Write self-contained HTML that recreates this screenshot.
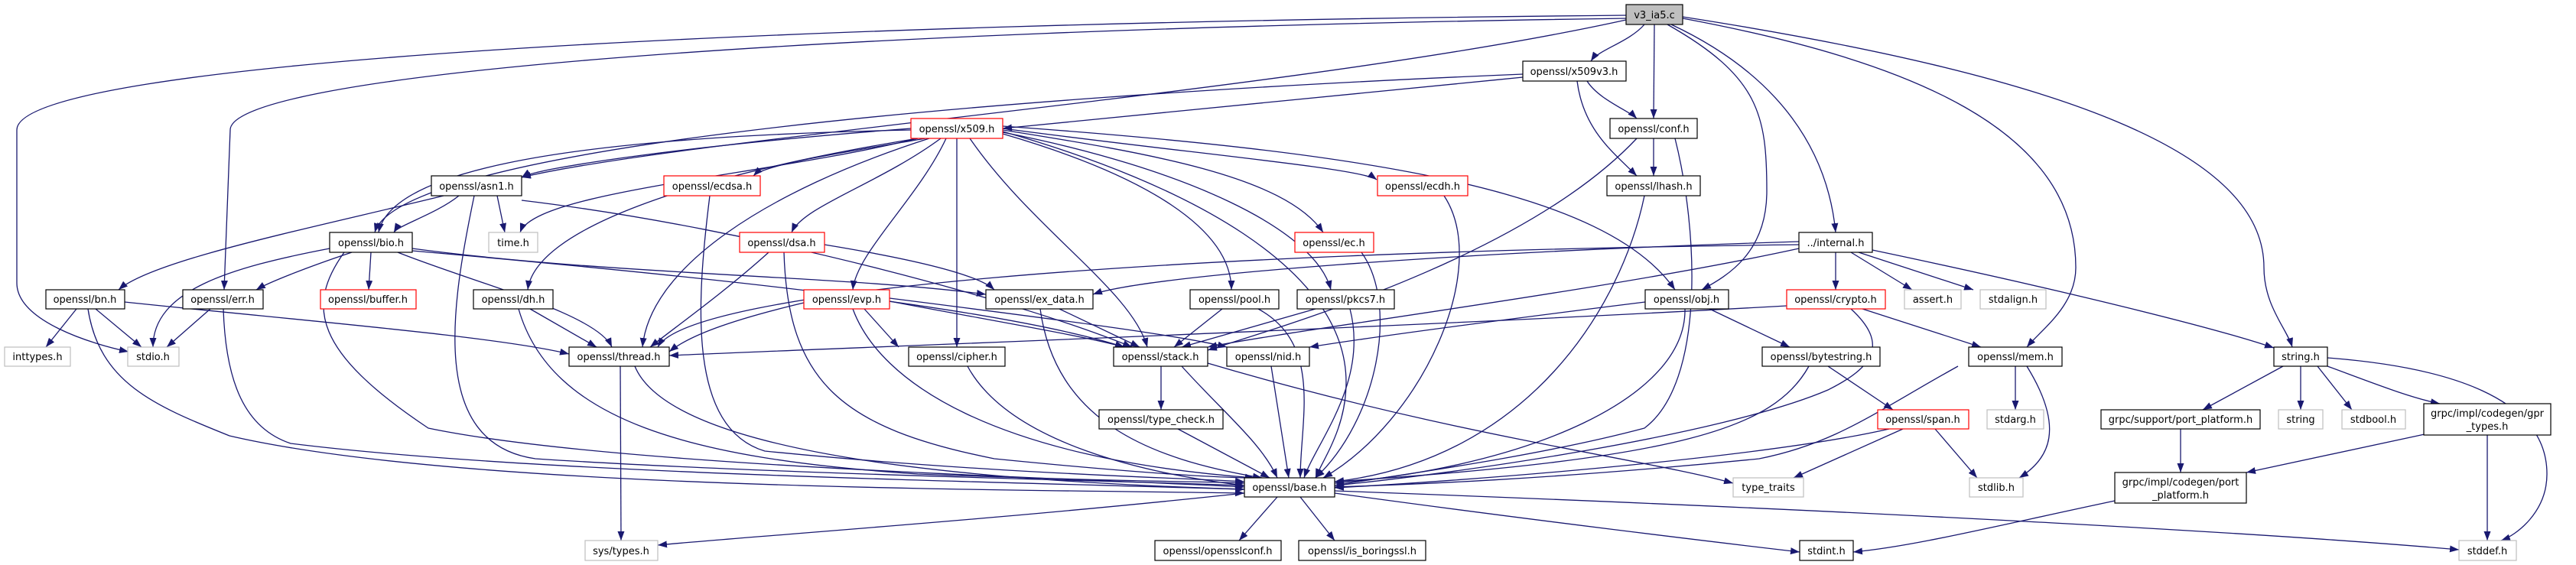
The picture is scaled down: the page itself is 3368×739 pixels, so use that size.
<!DOCTYPE html>
<html><head><meta charset="utf-8"><style>
html,body{margin:0;padding:0;background:#fff}
svg{display:block}
.e{fill:none;stroke:#191970;stroke-width:1.3;marker-end:url(#a)}
.n rect{fill:#fff;stroke:#000;stroke-width:1.2}
.n.r rect{stroke:#ff0000}
.n.g rect{stroke:#bfbfbf}
.n.root rect{fill:#bfbfbf;stroke:#000}
text{font-family:"DejaVu Sans","Liberation Sans",sans-serif;font-size:13px;fill:#000;text-anchor:middle}
</style></head><body>
<svg width="3368" height="739" viewBox="0 0 3368 739" xmlns="http://www.w3.org/2000/svg">
<defs><marker id="a" markerUnits="userSpaceOnUse" markerWidth="12" markerHeight="9" refX="12" refY="4.5" orient="auto"><path d="M0,0 L12,4.5 L0,9 z" fill="#191970"/></marker></defs>
<g>
<path class="e" d="M2150,32 C2130,55 2090,65 2080,80"/>
<path class="e" d="M2163,32 L2162,155"/>
<path class="e" d="M2180,32 C2300,100 2310,150 2310,250 C2310,330 2260,360 2225,379"/>
<path class="e" d="M2185,32 C2330,100 2390,200 2400,304"/>
<path class="e" d="M2200,24 C2500,80 2714,170 2714,350 C2714,400 2670,430 2650,454"/>
<path class="e" d="M2200,22 C2700,100 2960,200 2960,350 C2960,400 2990,430 2997,454"/>
<path class="e" d="M2126,20 C1000,30 22,80 22,170 L22,370 C22,420 120,450 168,460"/>
<path class="e" d="M2126,24 C1000,40 301,100 301,170 L293,379"/>
<path class="e" d="M2126,26 C1700,120 900,180 682,232"/>
<path class="e" d="M1991,101 C1700,130 1400,160 1311,168"/>
<path class="e" d="M1991,97 C1200,130 520,200 490,304"/>
<path class="e" d="M2075,106 C2090,130 2130,145 2140,155"/>
<path class="e" d="M2062,106 C2070,170 2110,200 2140,230"/>
<path class="e" d="M1191,170 C700,180 510,230 495,304"/>
<path class="e" d="M1191,168 C900,190 700,220 682,232"/>
<path class="e" d="M1200,181 C1000,230 700,250 680,304"/>
<path class="e" d="M1210,181 C1100,200 1000,215 985,230"/>
<path class="e" d="M1200,181 C900,230 700,300 690,379"/>
<path class="e" d="M1230,181 C1150,240 1050,270 1035,304"/>
<path class="e" d="M1237,181 C1200,260 1120,330 1115,379"/>
<path class="e" d="M1251,181 L1251,454"/>
<path class="e" d="M1268,181 C1350,300 1480,380 1500,454"/>
<path class="e" d="M1215,181 C1000,250 850,350 840,454"/>
<path class="e" d="M1311,175 C1500,230 1610,300 1610,379"/>
<path class="e" d="M1311,173 C1550,220 1720,300 1740,379"/>
<path class="e" d="M1311,170 C1500,200 1680,230 1730,304"/>
<path class="e" d="M1311,168 C1550,200 1780,220 1800,235"/>
<path class="e" d="M1311,165 C1800,200 2100,250 2190,379"/>
<path class="e" d="M1311,172 C1550,240 1760,350 1760,500 C1760,560 1730,600 1720,625"/>
<path class="e" d="M2162,181 L2162,230"/>
<path class="e" d="M2140,181 C2000,330 1700,420 1579,458"/>
<path class="e" d="M2190,181 C2220,300 2230,500 2150,560 C2000,600 1800,625 1745,635"/>
<path class="e" d="M2150,256 C2120,400 2000,600 1745,630"/>
<path class="e" d="M600,256 C570,280 520,295 515,304"/>
<path class="e" d="M650,256 L660,304"/>
<path class="e" d="M580,256 C400,300 200,340 155,379"/>
<path class="e" d="M620,256 C590,400 560,580 700,600 C1000,620 1500,630 1627,635"/>
<path class="e" d="M682,262 C1000,300 1350,400 1480,454"/>
<path class="e" d="M485,330 L482,379"/>
<path class="e" d="M460,330 C400,350 350,370 335,379"/>
<path class="e" d="M431,325 C300,350 200,380 200,454"/>
<path class="e" d="M520,330 C620,370 780,410 800,454"/>
<path class="e" d="M539,325 C800,360 1100,360 1289,385"/>
<path class="e" d="M539,328 C900,360 1300,400 1470,454"/>
<path class="e" d="M450,330 C400,400 410,460 560,560 C800,610 1400,625 1627,637"/>
<path class="e" d="M100,404 L60,454"/>
<path class="e" d="M125,404 L185,454"/>
<path class="e" d="M163,395 C400,420 650,440 744,463"/>
<path class="e" d="M115,404 C130,500 200,530 300,570 C600,640 1300,640 1627,645"/>
<path class="e" d="M275,404 L218,454"/>
<path class="e" d="M292,404 C295,500 320,560 380,580 C700,620 1300,630 1627,640"/>
<path class="e" d="M693,404 L780,454"/>
<path class="e" d="M678,404 C720,550 900,600 1200,620 C1450,630 1600,630 1627,632"/>
<path class="e" d="M928,256 C910,400 900,560 1000,590 C1300,620 1550,625 1627,630"/>
<path class="e" d="M1005,330 C950,380 880,430 850,454"/>
<path class="e" d="M1078,320 C1200,340 1280,360 1300,379"/>
<path class="e" d="M1025,330 C1030,500 1100,560 1300,600 C1500,620 1600,625 1640,625"/>
<path class="e" d="M1051,396 C950,420 900,440 875,460"/>
<path class="e" d="M1130,404 L1175,454"/>
<path class="e" d="M1163,394 C1300,420 1420,440 1470,454"/>
<path class="e" d="M1163,390 C1400,420 1550,440 1604,454"/>
<path class="e" d="M1115,404 C1150,500 1300,600 1640,625"/>
<path class="e" d="M1385,404 L1490,454"/>
<path class="e" d="M1360,404 C1380,550 1500,600 1650,625"/>
<path class="e" d="M1598,404 L1535,454"/>
<path class="e" d="M1645,404 C1730,450 1700,550 1700,625"/>
<path class="e" d="M1720,404 L1545,454"/>
<path class="e" d="M1765,404 C1790,500 1720,580 1705,625"/>
<path class="e" d="M1780,330 C1830,400 1800,550 1720,625"/>
<path class="e" d="M1888,256 C1950,350 1860,550 1730,625"/>
<path class="e" d="M2151,395 C1950,420 1800,440 1712,454"/>
<path class="e" d="M2235,404 L2340,454"/>
<path class="e" d="M2203,404 C2205,520 2000,610 1745,632"/>
<path class="e" d="M2352,320 C1500,330 900,380 860,454"/>
<path class="e" d="M2352,316 C1900,330 1500,360 1429,385"/>
<path class="e" d="M2352,325 C2100,380 1700,430 1579,454"/>
<path class="e" d="M2400,330 L2400,379"/>
<path class="e" d="M2420,330 L2500,379"/>
<path class="e" d="M2430,330 L2580,379"/>
<path class="e" d="M2448,327 C2700,380 2900,430 2973,455"/>
<path class="e" d="M2336,400 C1800,430 1100,455 875,465"/>
<path class="e" d="M2435,404 L2590,454"/>
<path class="e" d="M2420,404 C2470,450 2450,480 2390,510 C2250,570 1900,620 1745,635"/>
<path class="e" d="M811,479 L812,707"/>
<path class="e" d="M830,479 C880,600 1300,630 1627,640"/>
<path class="e" d="M1265,479 C1320,580 1500,620 1627,635"/>
<path class="e" d="M1518,479 L1518,536"/>
<path class="e" d="M1545,479 C1600,540 1650,580 1670,625"/>
<path class="e" d="M1579,475 C1900,570 2150,600 2266,632"/>
<path class="e" d="M1662,479 L1685,625"/>
<path class="e" d="M1540,561 L1660,625"/>
<path class="e" d="M2390,479 L2475,536"/>
<path class="e" d="M2365,479 C2320,560 2200,600 1745,630"/>
<path class="e" d="M2635,479 L2635,536"/>
<path class="e" d="M2650,479 C2700,560 2680,600 2640,625"/>
<path class="e" d="M2560,479 C2450,540 2400,580 2300,600 C2000,630 1800,635 1745,637"/>
<path class="e" d="M2470,561 C2300,600 1900,630 1745,638"/>
<path class="e" d="M2488,561 L2345,625"/>
<path class="e" d="M2530,561 L2585,625"/>
<path class="e" d="M2985,479 L2880,536"/>
<path class="e" d="M3008,479 L3008,536"/>
<path class="e" d="M3030,479 L3075,536"/>
<path class="e" d="M3043,479 C3100,500 3150,520 3190,528"/>
<path class="e" d="M3043,468 C3200,480 3330,520 3330,620 C3330,670 3290,700 3270,707"/>
<path class="e" d="M3170,568 L2937,618"/>
<path class="e" d="M3252,569 L3252,707"/>
<path class="e" d="M2851,561 L2851,618"/>
<path class="e" d="M2765,655 C2600,690 2500,715 2423,722"/>
<path class="e" d="M1627,645 C1300,680 1000,700 860,713"/>
<path class="e" d="M1670,650 L1620,707"/>
<path class="e" d="M1700,650 L1745,707"/>
<path class="e" d="M1745,645 C2000,680 2250,710 2353,722"/>
<path class="e" d="M1745,642 C2500,670 3000,700 3215,719"/>
</g>
<g>
<g class="n root"><rect x="2126" y="6" width="74" height="26"/><text x="2163" y="24">v3_ia5.c</text></g>
<g class="n"><rect x="1991" y="80" width="135" height="26"/><text x="2058" y="98">openssl/x509v3.h</text></g>
<g class="n r"><rect x="1191" y="155" width="120" height="26"/><text x="1251" y="173">openssl/x509.h</text></g>
<g class="n"><rect x="2105" y="155" width="114" height="26"/><text x="2162" y="173">openssl/conf.h</text></g>
<g class="n"><rect x="564" y="230" width="118" height="26"/><text x="623" y="248">openssl/asn1.h</text></g>
<g class="n r"><rect x="868" y="230" width="126" height="26"/><text x="931" y="248">openssl/ecdsa.h</text></g>
<g class="n r"><rect x="1801" y="230" width="118" height="26"/><text x="1860" y="248">openssl/ecdh.h</text></g>
<g class="n"><rect x="2101" y="230" width="122" height="26"/><text x="2162" y="248">openssl/lhash.h</text></g>
<g class="n"><rect x="431" y="304" width="108" height="26"/><text x="485" y="322">openssl/bio.h</text></g>
<g class="n g"><rect x="639" y="304" width="64" height="26"/><text x="671" y="322">time.h</text></g>
<g class="n r"><rect x="967" y="304" width="111" height="26"/><text x="1022" y="322">openssl/dsa.h</text></g>
<g class="n r"><rect x="1693" y="304" width="103" height="26"/><text x="1744" y="322">openssl/ec.h</text></g>
<g class="n"><rect x="2352" y="304" width="96" height="26"/><text x="2400" y="322">../internal.h</text></g>
<g class="n"><rect x="60" y="379" width="103" height="25"/><text x="111" y="396">openssl/bn.h</text></g>
<g class="n"><rect x="239" y="379" width="105" height="25"/><text x="291" y="396">openssl/err.h</text></g>
<g class="n r"><rect x="419" y="379" width="125" height="25"/><text x="481" y="396">openssl/buffer.h</text></g>
<g class="n"><rect x="619" y="379" width="104" height="25"/><text x="671" y="396">openssl/dh.h</text></g>
<g class="n r"><rect x="1051" y="379" width="112" height="25"/><text x="1107" y="396">openssl/evp.h</text></g>
<g class="n"><rect x="1289" y="379" width="140" height="25"/><text x="1359" y="396">openssl/ex_data.h</text></g>
<g class="n"><rect x="1556" y="379" width="116" height="25"/><text x="1614" y="396">openssl/pool.h</text></g>
<g class="n"><rect x="1696" y="379" width="127" height="25"/><text x="1759" y="396">openssl/pkcs7.h</text></g>
<g class="n"><rect x="2151" y="379" width="109" height="25"/><text x="2205" y="396">openssl/obj.h</text></g>
<g class="n r"><rect x="2336" y="379" width="129" height="25"/><text x="2400" y="396">openssl/crypto.h</text></g>
<g class="n g"><rect x="2490" y="379" width="74" height="25"/><text x="2527" y="396">assert.h</text></g>
<g class="n g"><rect x="2589" y="379" width="86" height="25"/><text x="2632" y="396">stdalign.h</text></g>
<g class="n g"><rect x="6" y="454" width="86" height="25"/><text x="49" y="471">inttypes.h</text></g>
<g class="n g"><rect x="167" y="454" width="67" height="25"/><text x="200" y="471">stdio.h</text></g>
<g class="n"><rect x="744" y="454" width="131" height="25"/><text x="809" y="471">openssl/thread.h</text></g>
<g class="n"><rect x="1188" y="454" width="126" height="25"/><text x="1251" y="471">openssl/cipher.h</text></g>
<g class="n"><rect x="1456" y="454" width="123" height="25"/><text x="1517" y="471">openssl/stack.h</text></g>
<g class="n"><rect x="1604" y="454" width="108" height="25"/><text x="1658" y="471">openssl/nid.h</text></g>
<g class="n"><rect x="2304" y="454" width="154" height="25"/><text x="2381" y="471">openssl/bytestring.h</text></g>
<g class="n"><rect x="2574" y="454" width="122" height="25"/><text x="2635" y="471">openssl/mem.h</text></g>
<g class="n"><rect x="2973" y="454" width="70" height="25"/><text x="3008" y="471">string.h</text></g>
<g class="n"><rect x="1437" y="536" width="162" height="25"/><text x="1518" y="553">openssl/type_check.h</text></g>
<g class="n r"><rect x="2455" y="536" width="119" height="25"/><text x="2514" y="553">openssl/span.h</text></g>
<g class="n g"><rect x="2598" y="536" width="74" height="25"/><text x="2635" y="553">stdarg.h</text></g>
<g class="n"><rect x="2747" y="536" width="208" height="25"/><text x="2851" y="553">grpc/support/port_platform.h</text></g>
<g class="n g"><rect x="2979" y="536" width="58" height="25"/><text x="3008" y="553">string</text></g>
<g class="n g"><rect x="3062" y="536" width="83" height="25"/><text x="3103" y="553">stdbool.h</text></g>
<g class="n"><rect x="3169" y="528" width="166" height="41"/><text x="3252" y="545">grpc/impl/codegen/gpr</text><text x="3252" y="562">_types.h</text></g>
<g class="n"><rect x="1627" y="625" width="118" height="25"/><text x="1686" y="642">openssl/base.h</text></g>
<g class="n g"><rect x="2266" y="625" width="92" height="25"/><text x="2312" y="642">type_traits</text></g>
<g class="n g"><rect x="2575" y="625" width="70" height="25"/><text x="2610" y="642">stdlib.h</text></g>
<g class="n"><rect x="2765" y="618" width="172" height="40"/><text x="2851" y="635">grpc/impl/codegen/port</text><text x="2851" y="652">_platform.h</text></g>
<g class="n g"><rect x="765" y="707" width="95" height="26"/><text x="812" y="725">sys/types.h</text></g>
<g class="n"><rect x="1510" y="707" width="165" height="26"/><text x="1592" y="725">openssl/opensslconf.h</text></g>
<g class="n"><rect x="1698" y="707" width="166" height="26"/><text x="1781" y="725">openssl/is_boringssl.h</text></g>
<g class="n"><rect x="2353" y="707" width="70" height="26"/><text x="2388" y="725">stdint.h</text></g>
<g class="n g"><rect x="3215" y="707" width="75" height="26"/><text x="3252" y="725">stddef.h</text></g>
</g>
</svg>
</body></html>
